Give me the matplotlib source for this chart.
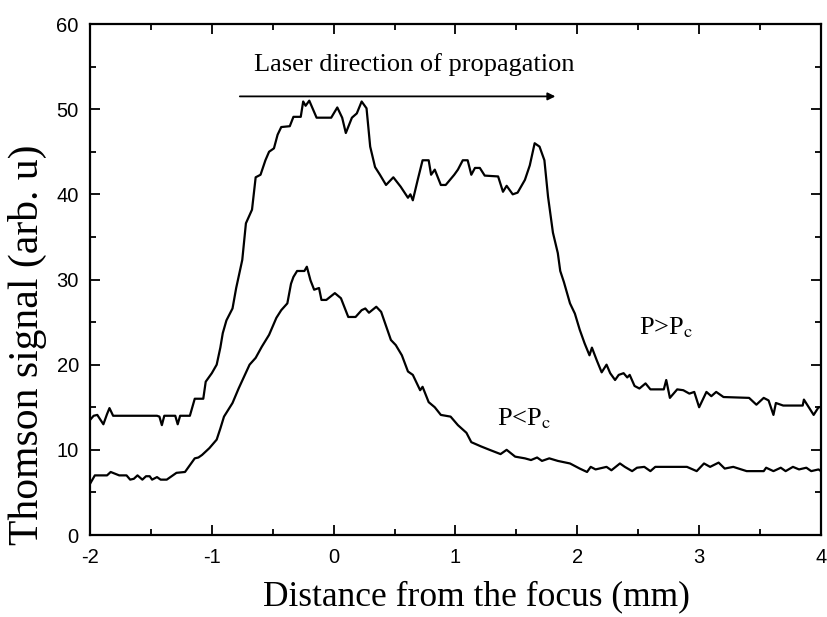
import matplotlib
matplotlib.use("Agg")
import matplotlib.pyplot as plt
from matplotlib.ticker import MultipleLocator

plt.rcParams['mathtext.fontset'] = 'stix'

# ---- data: P > Pc ----
x_high = [-2.00, -1.97, -1.94, -1.89, -1.86, -1.84, -1.81, -1.45, -1.43, -1.41, -1.39, -1.30, -1.28, -1.26,
          -1.18, -1.14, -1.07, -1.05, -1.00, -0.96, -0.93, -0.91, -0.88, -0.83, -0.80, -0.78, -0.75, -0.72,
          -0.67, -0.64, -0.60, -0.56, -0.53, -0.49, -0.46, -0.43, -0.36, -0.33, -0.27, -0.25, -0.23, -0.20,
          -0.17, -0.14, -0.02, 0.03, 0.07, 0.10, 0.15, 0.19, 0.23, 0.27, 0.30, 0.34, 0.38, 0.43, 0.49, 0.55,
          0.61, 0.63, 0.65, 0.69, 0.73, 0.78, 0.80, 0.83, 0.88, 0.92, 0.99, 1.02, 1.06, 1.10, 1.13, 1.16,
          1.20, 1.24, 1.35, 1.39, 1.42, 1.47, 1.51, 1.57, 1.61, 1.65, 1.69, 1.73, 1.76, 1.80, 1.84, 1.86,
          1.89, 1.94, 1.98, 2.02, 2.06, 2.10, 2.12, 2.16, 2.20, 2.24, 2.27, 2.31, 2.34, 2.38, 2.41, 2.43,
          2.47, 2.51, 2.56, 2.60, 2.71, 2.73, 2.76, 2.82, 2.87, 2.92, 2.96, 3.00, 3.06, 3.10, 3.14, 3.20,
          3.41, 3.47, 3.53, 3.57, 3.61, 3.63, 3.69, 3.85, 3.86, 3.90, 3.94, 3.98, 4.00]
y_high = [13.5, 14.0, 14.1, 13.0, 14.2, 14.9, 14.0, 14.0, 13.9, 12.9, 14.0, 14.0, 13.0, 14.0,
          14.0, 16.0, 16.0, 18.0, 19.0, 20.0, 22.0, 23.7, 25.2, 26.6, 29.0, 30.3, 32.3, 36.6,
          38.2, 42.0, 42.3, 44.0, 45.0, 45.4, 47.0, 47.9, 48.0, 49.1, 49.1, 50.9, 50.4, 51.0,
          50.0, 49.0, 49.0, 50.2, 49.0, 47.2, 49.0, 49.5, 50.9, 50.1, 45.6, 43.2, 42.3, 41.1, 42.0, 40.9,
          39.6, 40.0, 39.3, 41.7, 44.0, 44.0, 42.3, 42.9, 41.1, 41.1, 42.3, 42.9, 44.0, 44.0, 42.3, 43.1,
          43.1, 42.2, 42.1, 40.3, 41.0, 40.0, 40.2, 41.7, 43.4, 46.0, 45.6, 44.0, 39.7, 35.5, 33.1, 31.0,
          29.7, 27.2, 26.0, 24.1, 22.5, 21.1, 22.0, 20.5, 19.1, 20.0, 19.0, 18.2, 18.8, 19.0, 18.5, 18.8,
          17.5, 17.2, 17.8, 17.1, 17.1, 18.2, 16.1, 17.1, 17.0, 16.6, 16.8, 15.0, 16.8, 16.3, 16.8, 16.2,
          16.1, 15.3, 16.1, 15.8, 14.1, 15.5, 15.2, 15.2, 15.9, 15.0, 14.1, 15.0, 15.0]

# ---- data: P < Pc ----
x_low = [-2.00, -1.98, -1.96, -1.86, -1.83, -1.76, -1.70, -1.67, -1.64, -1.61, -1.57, -1.54, -1.51, -1.49,
         -1.45, -1.42, -1.37, -1.33, -1.29, -1.22, -1.18, -1.14, -1.11, -1.08, -1.02, -0.96, -0.93, -0.90,
         -0.83, -0.78, -0.69, -0.64, -0.59, -0.53, -0.47, -0.43, -0.38, -0.35, -0.33, -0.30, -0.24, -0.22,
         -0.19, -0.16, -0.12, -0.10, -0.06, 0.01, 0.06, 0.12, 0.18, 0.23, 0.26, 0.29, 0.35, 0.39, 0.47,
         0.51, 0.56, 0.61, 0.65, 0.71, 0.73, 0.78, 0.83, 0.88, 0.96, 1.02, 1.09, 1.13, 1.21, 1.28, 1.37,
         1.42, 1.49, 1.57, 1.62, 1.67, 1.71, 1.77, 1.84, 1.94, 2.02, 2.08, 2.11, 2.15, 2.24, 2.28, 2.35,
         2.39, 2.45, 2.49, 2.55, 2.60, 2.64, 2.76, 2.90, 2.98, 3.04, 3.09, 3.16, 3.21, 3.28, 3.39, 3.53,
         3.55, 3.61, 3.67, 3.71, 3.77, 3.82, 3.88, 3.92, 3.98, 4.00]
y_low = [6.0, 6.5, 7.0, 7.0, 7.4, 7.0, 7.0, 6.5, 6.6, 7.0, 6.5, 6.9, 6.9, 6.5,
         6.8, 6.5, 6.5, 6.9, 7.3, 7.4, 8.2, 9.0, 9.1, 9.4, 10.2, 11.2, 12.5, 13.9,
         15.5, 17.2, 20.0, 20.8, 22.1, 23.5, 25.5, 26.4, 27.2, 29.5, 30.3, 31.0, 31.0, 31.5,
         29.9, 28.8, 29.0, 27.6, 27.6, 28.4, 27.8, 25.6, 25.6, 26.4, 26.6, 26.1, 26.8, 26.2, 22.9,
         22.3, 21.1, 19.2, 18.8, 17.0, 17.4, 15.6, 15.0, 14.1, 13.9, 12.9, 12.0, 10.9, 10.4, 10.0, 9.5,
         10.0, 9.2, 9.0, 8.8, 9.1, 8.7, 9.0, 8.7, 8.4, 7.8, 7.4, 8.0, 7.7, 8.0, 7.6, 8.4,
         8.0, 7.5, 7.9, 8.0, 7.5, 8.0, 8.0, 8.0, 7.5, 8.4, 8.0, 8.5, 7.8, 8.0, 7.5, 7.5,
         7.9, 7.5, 7.9, 7.5, 8.0, 7.7, 7.9, 7.5, 7.7, 7.5]

x_ticks = [-2, -1, 0, 1, 2, 3, 4]
x_ticklabels = ["-2", "-1", "0", "1", "2", "3", "4"]
y_ticks = [0, 10, 20, 30, 40, 50, 60]

arrow_x = [-0.77, 1.82]
arrow_y = 51.5

fig = plt.figure(figsize=(8.27, 6.17), dpi=100)
ax = fig.add_axes([0.1088, 0.1329, 0.8839, 0.8282])

ax.plot(x_high, y_high, color='black', lw=1.6)
ax.plot(x_low, y_low, color='black', lw=1.6)

ax.set_xlim(-2, 4)
ax.set_ylim(0, 60)
ax.set_xticks(x_ticks)
ax.set_xticklabels(x_ticklabels)
ax.set_yticks(y_ticks)
ax.xaxis.set_minor_locator(MultipleLocator(0.5))
ax.yaxis.set_minor_locator(MultipleLocator(5))
ax.tick_params(which='both', direction='in', top=True, right=True, width=1.3)
ax.tick_params(which='major', length=7)
ax.tick_params(which='minor', length=4)
ax.tick_params(axis='both', labelsize=14.5)
ax.tick_params(axis='x', pad=9)
ax.tick_params(axis='y', pad=8)
for lab in ax.get_xticklabels() + ax.get_yticklabels():
    lab.set_fontfamily('Liberation Sans')
for sp in ax.spines.values():
    sp.set_linewidth(1.6)

ax.set_xlabel("Distance from the focus (mm)", family='Liberation Serif', fontsize=25.5)
ax.set_ylabel("Thomson signal (arb. u)", family='Liberation Serif', fontsize=30)
ax.xaxis.set_label_coords(0.528, -0.121)
ax.xaxis.label.set_va('center')
ax.yaxis.set_label_coords(-0.086, 0.372)
ax.yaxis.label.set_va('center')

ax.text(0.66, 55.2, "Laser direction of propagation", family='Liberation Serif',
        fontsize=19, ha='center', va='center')
ax.annotate("", xy=(arrow_x[1], arrow_y), xytext=(arrow_x[0], arrow_y),
            arrowprops=dict(arrowstyle='-|>', color='black', lw=1.3,
                            mutation_scale=11, shrinkA=0, shrinkB=0))

ax.text(2.51, 23.5, r"P>P$_\mathrm{c}$", family='Liberation Serif', fontsize=19,
        ha='left', va='baseline')
ax.text(1.34, 12.9, r"P<P$_\mathrm{c}$", family='Liberation Serif', fontsize=19,
        ha='left', va='baseline')

fig.savefig("out.png", dpi=100)
